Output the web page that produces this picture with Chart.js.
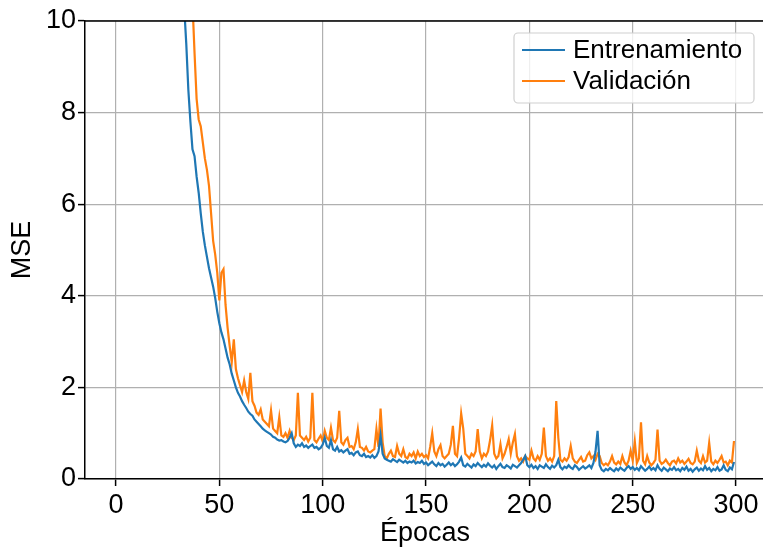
<!DOCTYPE html>
<html>
<head>
<meta charset="utf-8">
<script src="https://cdn.jsdelivr.net/npm/chart.js@4.4.0/dist/chart.umd.min.js"></script>
<style>
html, body { margin: 0; padding: 0; background: #fff; overflow: hidden; }
canvas { display: block; }
</style>
</head>
<body>
<canvas id="lossChart" width="765" height="550"></canvas>
<script>
// epocas 0..299
const epochs = [...Array(300).keys()];

const xTicks = [0, 50, 100, 150, 200, 250, 300];
const yTicks = [0, 2, 4, 6, 8, 10];

// MSE de entrenamiento (las primeras epocas quedan fuera del grafico, > 10)
const trainMse = [
  62.0, 48.5, 41.2, 37.8, 35.1, 33.0, 31.4, 29.9, 28.7, 27.5,
  26.4, 25.3, 24.4, 23.5, 22.6, 21.8, 21.0, 20.2, 19.5, 18.8,
  18.1, 17.4, 16.7, 16.0, 15.4, 14.8, 14.1, 13.5, 12.9, 12.4,
  11.8, 11.3, 10.8, 10.3, 9.5, 8.5, 7.8, 7.2, 7.05, 6.6,
  6.25, 5.8, 5.4, 5.1, 4.85, 4.6, 4.4, 4.2, 3.95, 3.65,
  3.4, 3.2, 3.05, 2.85, 2.65, 2.5, 2.3, 2.15, 2.0, 1.88,
  1.8, 1.7, 1.62, 1.55, 1.47, 1.42, 1.38, 1.3, 1.25, 1.2,
  1.15, 1.1, 1.06, 1.03, 1.0, 0.97, 0.92, 0.9, 0.86, 0.84,
  0.85, 0.82, 0.8, 0.83, 0.9, 1.0, 0.78, 0.7, 0.75, 0.72,
  0.78, 0.7, 0.73, 0.68, 0.72, 0.75, 0.68, 0.7, 0.65, 0.68,
  0.75, 0.9, 0.72, 0.68, 0.85, 0.65, 0.62, 0.7, 0.6, 0.63,
  0.58, 0.62, 0.65, 0.55, 0.57, 0.52, 0.58, 0.6, 0.52, 0.5,
  0.55, 0.48, 0.5, 0.47, 0.52, 0.46, 0.5, 0.6, 0.95, 0.55,
  0.45, 0.42, 0.4, 0.38, 0.43, 0.4, 0.37, 0.42, 0.39, 0.36,
  0.4, 0.35, 0.38, 0.36, 0.4, 0.34, 0.37, 0.35, 0.4, 0.33,
  0.36, 0.3, 0.34, 0.38, 0.32, 0.28, 0.35, 0.3, 0.33, 0.27,
  0.31, 0.36, 0.3, 0.34, 0.28, 0.32, 0.38, 0.47, 0.3, 0.27,
  0.33, 0.29, 0.25, 0.32, 0.28, 0.35, 0.3, 0.26, 0.31, 0.27,
  0.34, 0.29, 0.25, 0.3, 0.22, 0.28, 0.33, 0.26, 0.24, 0.3,
  0.27, 0.23, 0.31, 0.28, 0.25, 0.3, 0.35, 0.42, 0.5, 0.3,
  0.26, 0.31, 0.24, 0.28, 0.22, 0.3, 0.27, 0.24, 0.32, 0.26,
  0.22, 0.29, 0.25, 0.3, 0.42, 0.26, 0.21, 0.27, 0.24, 0.3,
  0.25, 0.22, 0.3, 0.26, 0.2, 0.24, 0.28, 0.23, 0.26, 0.3,
  0.24, 0.35, 0.6, 1.05, 0.3, 0.2, 0.17, 0.22, 0.19, 0.24,
  0.2, 0.17, 0.23, 0.19, 0.25, 0.21, 0.18, 0.24, 0.28, 0.22,
  0.26, 0.2, 0.24, 0.19, 0.28, 0.23, 0.18, 0.22, 0.27, 0.2,
  0.24, 0.19, 0.3, 0.22, 0.18, 0.25, 0.21, 0.17, 0.23, 0.2,
  0.26, 0.19, 0.22, 0.17, 0.24, 0.2, 0.27, 0.18, 0.22, 0.16,
  0.21, 0.25, 0.18, 0.23, 0.19, 0.28, 0.2, 0.24, 0.17, 0.22,
  0.19, 0.26, 0.18, 0.21, 0.3, 0.2, 0.17, 0.25, 0.21, 0.37
];

// MSE de validacion
const valMse = [
  78.0, 62.0, 53.0, 47.5, 43.4, 40.2, 37.6, 35.3, 33.4, 31.7,
  30.1, 28.7, 27.4, 26.2, 25.1, 24.0, 23.0, 22.0, 21.1, 20.2,
  19.4, 18.6, 17.8, 17.0, 16.3, 15.6, 14.9, 14.3, 13.7, 13.1,
  12.6, 12.1, 11.6, 11.2, 10.9, 10.7, 10.6, 10.4, 9.3, 8.3,
  7.85, 7.7, 7.35, 7.0, 6.75, 6.4, 5.8, 5.2, 4.9, 4.5,
  3.9, 4.5, 4.58, 3.8, 3.3, 2.9, 2.55, 3.05, 2.4, 2.2,
  2.05, 1.9, 2.15, 1.9, 1.75, 2.32, 1.7, 1.6, 1.45, 1.4,
  1.52, 1.3, 1.25, 1.2, 1.15, 1.5, 1.1, 1.05, 1.0, 1.35,
  0.95, 0.92, 1.0, 0.9, 1.05, 0.9, 0.85, 0.95, 1.88, 0.95,
  0.9, 0.85, 0.92, 0.82, 0.9, 1.88, 0.85, 0.8, 0.88, 0.95,
  0.82, 1.05, 0.9, 0.85, 1.12, 0.85, 0.8, 0.9, 1.49, 0.8,
  0.75, 0.85, 0.9, 0.7, 0.72, 0.65, 0.8, 1.09, 0.7, 0.68,
  0.62, 0.7, 0.6, 0.58, 0.62, 0.65, 1.09, 0.7, 1.54, 0.8,
  0.5, 0.45, 0.55, 0.62, 0.5, 0.48, 0.72, 0.55, 0.5, 0.65,
  0.48, 0.45, 0.55, 0.5, 0.58, 0.45, 0.6, 0.5, 0.55, 0.48,
  0.52, 0.45, 0.7, 1.0, 0.6, 0.5, 0.65, 0.74, 0.5, 0.45,
  0.5, 0.55, 0.75, 1.16, 0.55, 0.5, 0.9, 1.43, 1.1, 0.55,
  0.5, 0.45, 0.55, 0.5, 0.6, 1.09, 0.6, 0.45, 0.55, 0.5,
  0.6, 0.85, 1.17, 0.55, 0.45, 0.5, 0.76, 0.45, 0.55, 0.7,
  0.87, 0.55, 0.8, 0.98, 0.5, 0.4, 0.45, 0.38, 0.5, 0.45,
  0.42, 0.62, 0.45, 0.4, 0.5, 0.42, 0.55, 1.12, 0.5, 0.4,
  0.45, 0.38, 0.5, 1.7, 0.9, 0.42, 0.38, 0.45, 0.4, 0.48,
  0.72, 0.45, 0.38, 0.35, 0.42, 0.48, 0.38, 0.4, 0.52, 0.58,
  0.45, 0.5, 0.42, 0.55, 0.5, 0.35, 0.3, 0.34, 0.3, 0.38,
  0.5, 0.36, 0.32, 0.38, 0.33, 0.5, 0.36, 0.3, 0.4, 0.62,
  0.4, 0.82, 0.35, 0.45, 1.24, 0.4, 0.32, 0.5, 0.36, 0.3,
  0.35, 0.42, 1.08, 0.4, 0.33, 0.36, 0.42, 0.35, 0.3, 0.38,
  0.4, 0.34, 0.45, 0.36, 0.4, 0.33, 0.38, 0.44, 0.35, 0.32,
  0.38, 0.62, 0.4, 0.35, 0.5, 0.36, 0.4, 0.79, 0.38, 0.32,
  0.4, 0.35, 0.42, 0.5, 0.36, 0.38, 0.3, 0.4, 0.36, 0.83
];

Chart.defaults.font.family = "'Liberation Sans', Arial, sans-serif";
Chart.defaults.color = '#000';

const FONT_SIZE = 27;

// leyenda tipo matplotlib dentro del area del grafico + borde superior
const frameAndLegend = {
  id: 'frameAndLegend',
  afterDraw(chart) {
    const c = chart.ctx;
    const area = chart.chartArea;

    // eje superior
    c.save();
    c.strokeStyle = '#000';
    c.lineWidth = 1.5;
    c.beginPath();
    c.moveTo(area.left, area.top);
    c.lineTo(area.right, area.top);
    c.stroke();

    // caja de la leyenda
    const w = 240, h = 70;
    const x = area.right - 11 - w;
    const y = area.top + 12;
    c.fillStyle = 'rgba(255,255,255,0.8)';
    c.strokeStyle = '#d0d0d0';
    c.lineWidth = 1.2;
    c.beginPath();
    c.roundRect(x, y, w, h, 4);
    c.fill();
    c.stroke();

    c.font = "26px 'Liberation Sans', Arial, sans-serif";
    c.textBaseline = 'middle';
    c.textAlign = 'left';
    chart.data.datasets.forEach((ds, i) => {
      const rowY = y + 17 + i * 31;
      c.strokeStyle = ds.borderColor;
      c.lineWidth = 2;
      c.beginPath();
      c.moveTo(x + 8, rowY);
      c.lineTo(x + 51, rowY);
      c.stroke();
      c.fillStyle = '#000';
      c.fillText(ds.label, x + 59, rowY + 1);
    });
    c.restore();
  }
};

const ctx = document.getElementById('lossChart').getContext('2d');

new Chart(ctx, {
  type: 'line',
  data: {
    labels: epochs,
    datasets: [
      {
        label: 'Entrenamiento',
        data: trainMse,
        borderColor: '#1f77b4',
        borderWidth: 2.2,
        pointRadius: 0,
        tension: 0,
        fill: false
      },
      {
        label: 'Validación',
        data: valMse,
        borderColor: '#ff7f0e',
        borderWidth: 2.2,
        pointRadius: 0,
        tension: 0,
        fill: false
      }
    ]
  },
  options: {
    responsive: false,
    devicePixelRatio: 1,
    animation: false,
    layout: { padding: { top: 21, right: 0, left: 0, bottom: 0 } },
    plugins: {
      legend: { display: false },
      tooltip: { enabled: false }
    },
    scales: {
      x: {
        type: 'linear',
        min: -15,
        max: 314,
        afterBuildTicks: axis => { axis.ticks = xTicks.map(v => ({ value: v })); },
        afterFit: axis => { axis.height = 71; },
        ticks: {
          font: { size: FONT_SIZE },
          padding: 3,
          maxRotation: 0,
          autoSkip: false
        },
        grid: {
          color: '#b0b0b0',
          lineWidth: 1.2,
          tickColor: '#000',
          tickLength: 7,
          tickWidth: 1.5
        },
        border: { color: '#000', width: 1.5 },
        title: {
          display: true,
          text: 'Épocas',
          font: { size: FONT_SIZE },
          padding: { top: 0, bottom: 0 }
        }
      },
      y: {
        min: 0,
        max: 10,
        afterBuildTicks: axis => { axis.ticks = yTicks.map(v => ({ value: v })); },
        afterFit: axis => { axis.width = 85; },
        ticks: {
          font: { size: FONT_SIZE },
          padding: 2
        },
        grid: {
          color: '#b0b0b0',
          lineWidth: 1.2,
          tickColor: '#000',
          tickLength: 7,
          tickWidth: 1.5
        },
        border: { color: '#000', width: 1.5 },
        title: {
          display: true,
          text: 'MSE',
          font: { size: FONT_SIZE },
          padding: { top: 6, bottom: 0 }
        }
      }
    }
  },
  plugins: [frameAndLegend]
});
</script>
</body>
</html>
